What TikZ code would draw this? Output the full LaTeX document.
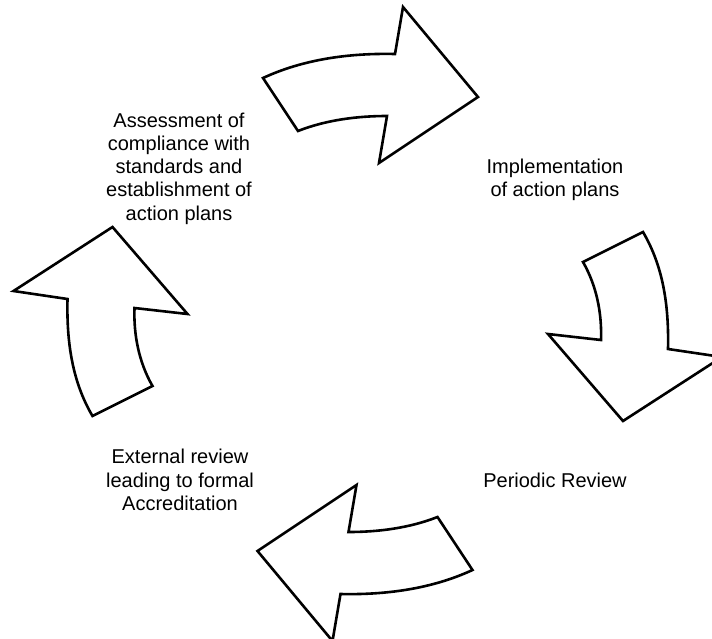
\documentclass[tikz,border=0pt]{standalone}
\usepackage{fontspec}
\setmainfont{Liberation Sans}

\tikzset{
  cyclearrow/.style={draw=black, fill=white, line width=2.6pt, line join=miter},
  steplabel/.style={align=center, inner sep=0pt, font=\fontsize{20}{23.3}\selectfont}
}

\begin{document}
\begin{tikzpicture}[x=1pt, y=-1pt]

\useasboundingbox (0,0) rectangle (712,638);
\clip (0,0) rectangle (712,638);

% Centre of the cycle: the lower and left arrows are the upper and
% right arrows turned through 180 degrees around it
\coordinate (cycleCentre) at (367.75,324);

% Upper arrow (and lower arrow)
\foreach \turn in {0,180}{
  \draw [cyclearrow, rotate around={\turn:(cycleCentre)}]
        (263,78) .. controls (304,59) and (350,53) .. (395,54)
        -- (403,7) -- (478,97) -- (379,163) -- (387,116)
        .. controls (357,116) and (326,120) .. (298,131)
        -- cycle;
}

% Right arrow (and left arrow)
\foreach \turn in {0,180}{
  \draw [cyclearrow, rotate around={\turn:(cycleCentre)}]
        (643,232) -- (583,262)
        .. controls (596.5,285.5) and (602,313) .. (601,340)
        -- (548,334) -- (623,421) -- (722,357) -- (668,349)
        .. controls (669,305) and (663,266) .. (643,232)
        -- cycle;
}

% Stages
\node [steplabel] (assessment) at (179,168.5)
      {Assessment of\\compliance with\\standards and\\establishment of\\action plans};
\node [steplabel] (implementation) at (555,180)
      {Implementation\\of action plans};
\node [steplabel] (periodicReview) at (555,480) {Periodic Review};
\node [steplabel] (externalReview) at (180,480)
      {External review\\leading to formal\\Accreditation};

\end{tikzpicture}
\end{document}
